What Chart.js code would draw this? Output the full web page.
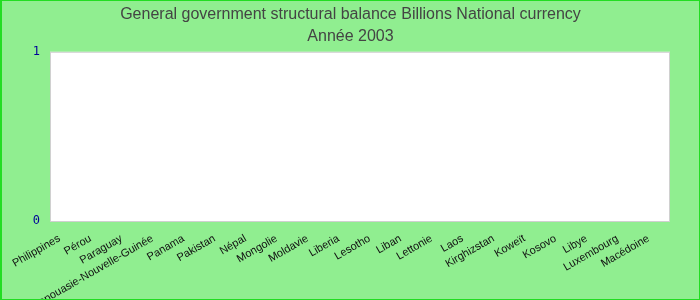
<!DOCTYPE html>
<html>
<head>
<meta charset="utf-8">
<script src="https://cdn.jsdelivr.net/npm/chart.js@4/dist/chart.umd.min.js"></script>
<style>
    body { margin: 0; }
    #wrap {
        width: 700px; height: 300px; box-sizing: border-box;
        border: 1px solid #22dd22; border-left-width: 2px;
        background: #90ee90;
    }
    #wrap canvas { display: block; }
</style>
</head>
<body>
<div id="wrap"><canvas id="chart" width="697" height="298"></canvas></div>
<script>
// Pays (ordre du graphique)
const countries = [
    'Philippines', 'Pérou', 'Paraguay', 'Papouasie-Nouvelle-Guinée', 'Panama',
    'Pakistan', 'Népal', 'Mongolie', 'Moldavie', 'Liberia',
    'Lesotho', 'Liban', 'Lettonie', 'Laos', 'Kirghizstan',
    'Koweït', 'Kosovo', 'Libye', 'Luxembourg', 'Macédoine'
];

// Aucune valeur visible pour 2003
const balance2003 = [
    null, null, null, null, null, null, null, null, null, null,
    null, null, null, null, null, null, null, null, null, null
];

const yTicks = [0, 1];

const titleLines = ['General government structural balance Billions National currency', 'Année 2003'];

// Fond blanc et bordure grise de la zone de tracé
const plotFrame = {
    id: 'plotFrame',
    beforeDraw(chart) {
        const { ctx, chartArea: a } = chart;
        ctx.save();
        ctx.fillStyle = '#ffffff';
        ctx.fillRect(a.left, a.top, a.right - a.left, a.bottom - a.top);
        ctx.strokeStyle = '#d0d0d0';
        ctx.lineWidth = 1;
        ctx.strokeRect(a.left + 0.5, a.top + 0.5, a.right - a.left - 1, a.bottom - a.top);
        ctx.restore();
    }
};

new Chart(document.getElementById('chart'), {
    type: 'bar',
    data: {
        labels: countries,
        datasets: [{
            label: '2003',
            data: balance2003,
            backgroundColor: '#4472c4'
        }]
    },
    options: {
        responsive: false,
        animation: false,
        layout: { padding: 0 },
        plugins: {
            legend: { display: false },
            tooltip: { enabled: false },
            title: {
                display: true,
                text: titleLines,
                color: '#444444',
                font: { family: 'Liberation Sans', size: 16, weight: 'normal', lineHeight: 1.4 },
                padding: { top: 2, bottom: 4 }
            }
        },
        scales: {
            x: {
                grid: { display: false, drawTicks: false },
                border: { display: false },
                afterFit(scale) { scale.height = 78; },
                ticks: {
                    autoSkip: false,
                    maxRotation: 30,
                    minRotation: 30,
                    padding: 11,
                    labelOffset: -6,
                    color: '#111111',
                    font: { family: 'Liberation Sans', size: 11 }
                }
            },
            y: {
                min: 0,
                max: 1,
                grid: { display: false, drawTicks: false },
                border: { display: false },
                afterFit(scale) { scale.width = 48; },
                afterBuildTicks(scale) { scale.ticks = yTicks.map(v => ({ value: v })); },
                ticks: {
                    padding: 10,
                    color: '#000099',
                    font: { family: 'DejaVu Sans Mono', size: 12 }
                }
            },
            // marge droite
            yRight: {
                position: 'right',
                grid: { display: false, drawTicks: false },
                border: { display: false },
                ticks: { display: false },
                afterFit(scale) { scale.width = 29; }
            }
        }
    },
    plugins: [plotFrame]
});
</script>
</body>
</html>
